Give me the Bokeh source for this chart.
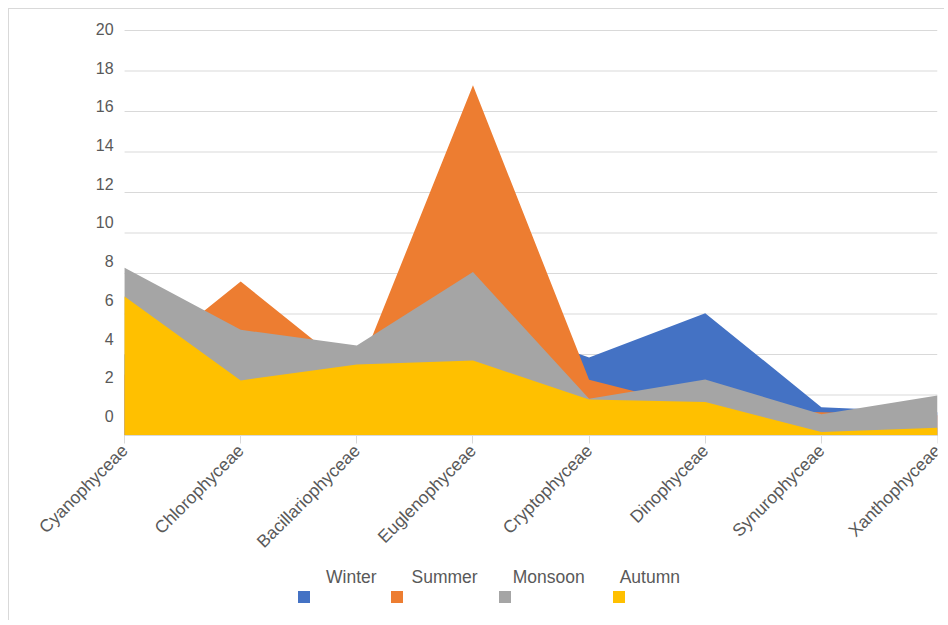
from math import pi
from bokeh.plotting import figure
from bokeh.models import Range1d, LinearAxis, FixedTicker, Legend, LegendItem
from bokeh.embed import file_html
from bokeh.resources import INLINE

categories = ["Cyanophyceae", "Chlorophyceae", "Bacillariophyceae", "Euglenophyceae",
              "Cryptophyceae", "Dinophyceae", "Synurophyceae", "Xanthophyceae"]
winter = [4.0, 3.2, 2.9, 5.9, 3.85, 6.04, 1.4, 1.15]
summer = [3.0, 7.6, 3.0, 17.3, 2.75, 1.3, 1.15, 1.0]
monsoon = [8.28, 5.22, 4.44, 8.07, 1.81, 2.77, 1.05, 1.98]
autumn = [6.86, 2.72, 3.51, 3.70, 1.78, 1.65, 0.17, 0.38]
series_names = ["Winter", "Summer", "Monsoon", "Autumn"]
series_values = [winter, summer, monsoon, autumn]
colors = ["#4472C4", "#ED7D31", "#A5A5A5", "#FFC000"]
y_ticks = [0, 2, 4, 6, 8, 10, 12, 14, 16, 18, 20]

FONT = "Liberation Sans"
TXT = "#595959"
GRID = "#D9D9D9"

x = list(range(len(categories)))
x_last = len(categories) - 1

p = figure(width=936, height=612,
           x_range=Range1d(-0.81, x_last),
           y_range=Range1d(-8.889, 20.741),
           output_backend="svg", toolbar_location=None,
           min_border_left=21, min_border_right=8,
           min_border_top=6, min_border_bottom=6)
p.outline_line_color = None
p.background_fill_color = "white"
p.border_fill_color = "white"
p.styles = {"margin-left": "8px", "margin-top": "8px",
            "border-left": "1px solid #D9D9D9", "border-top": "1px solid #D9D9D9"}

# horizontal gridlines spanning only the category extent
p.xgrid.visible = False
p.ygrid.visible = False
p.segment(x0=0, x1=x_last, y0=y_ticks, y1=y_ticks, line_color=GRID, line_width=1)

renderers = []
for name, vals, c in zip(series_names, series_values, colors):
    r = p.varea(x=x, y1=0, y2=vals, fill_color=c)
    renderers.append(r)

# x axis drawn at value 0
xa = p.xaxis[0]
xa.fixed_location = 0
xa.bounds = (0, x_last)
xa.ticker = FixedTicker(ticks=x)
xa.major_label_overrides = {i: c for i, c in enumerate(categories)}
xa.major_label_orientation = pi / 4
xa.axis_line_color = GRID
xa.major_tick_line_color = GRID
xa.major_tick_out = 8
xa.major_tick_in = 0
xa.minor_tick_line_color = None
xa.major_label_standoff = 4
xa.major_label_text_font = FONT
xa.major_label_text_font_size = "17.5px"
xa.major_label_text_color = TXT

# y labels (Excel places them slightly offset from gridlines)
p.yaxis.visible = False
p.extra_y_ranges = {"lab": Range1d(-10.29, 20.687)}
ya = LinearAxis(y_range_name="lab", ticker=FixedTicker(ticks=y_ticks), fixed_location=0,
                axis_line_color=None, major_tick_line_color=None,
                minor_tick_line_color=None, major_tick_out=0, major_tick_in=0,
                major_label_standoff=11, major_label_text_font=FONT,
                major_label_text_font_size="16px", major_label_text_color=TXT)
p.add_layout(ya, "left")

# legend: squares row
leg1 = Legend(items=[LegendItem(label=n, renderers=[r]) for n, r in zip(series_names, renderers)],
              orientation="horizontal", location=(266, 8),
              glyph_width=15, glyph_height=15, label_height=15,
              label_text_alpha=0, label_standoff=5, spacing=22,
              padding=0, margin=0, border_line_color=None, background_fill_alpha=0,
              label_text_font=FONT, label_text_font_size="17.5px")
# legend: text row
leg2 = Legend(items=[LegendItem(label=n, renderers=[r]) for n, r in zip(series_names, renderers)],
              orientation="horizontal", location=(296, 27),
              glyph_width=0, glyph_height=15, label_height=15,
              label_standoff=0, spacing=35,
              padding=0, margin=0, border_line_color=None, background_fill_alpha=0,
              label_text_font=FONT, label_text_font_size="17.5px", label_text_color=TXT)
p.add_layout(leg1, "center")
p.add_layout(leg2, "center")

open("out.html", "w").write(file_html(p, INLINE))
